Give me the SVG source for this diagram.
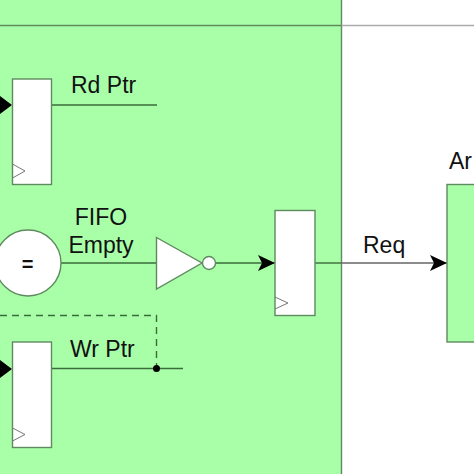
<svg xmlns="http://www.w3.org/2000/svg" width="474" height="474" viewBox="0 0 474 474">
<defs>
<marker id="arrow" markerUnits="userSpaceOnUse" markerWidth="18" markerHeight="16" refX="17" refY="8" orient="auto"><path d="M0 0L17 8L0 16L4 8Z" fill="#000"/></marker>
</defs>
<style>
.reg{fill:#fff;stroke:#5f8a5f;stroke-width:1.400}
.clk{fill:none;stroke:#777;stroke-width:1}
.wire{fill:none;stroke:#3a6b3a;stroke-width:1.400}
.lbl{font-family:"Liberation Sans",Arial,sans-serif;font-size:23px;fill:#111}
</style>
<rect id="region" x="0" y="0" width="341.500" height="474" fill="#a8ffa8"/>
<g id="connectors">
<path d="M341.500 0V474" fill="none" stroke="#5f8a5f" stroke-width="1.400"/>
<path d="M341.500 25.500H474" fill="none" stroke="#aaa" stroke-width="1.500"/>
<path d="M0 25.500H341.500" fill="none" stroke="#5f8a5f" stroke-width="1.400"/>
<path class="wire" d="M51 105H157"/>
<path class="wire" d="M61 263H157"/>
<path class="wire" d="M216 263H275" marker-end="url(#arrow)"/>
<path class="wire" d="M315 263H341"/>
<path d="M341 263H447" fill="none" stroke="#666" stroke-width="1.400" marker-end="url(#arrow)"/>
<path class="wire" d="M51 368.500H183"/>
<path class="wire" d="M0 315.500H156.500V368.500" stroke-dasharray="7 5"/>
<path d="M0 96L12 105L0 114Z" fill="#000"/>
<path d="M0 360L12 369L0 378Z" fill="#000"/>
<circle cx="156.500" cy="368.500" r="3.500" fill="#000"/>
</g>
<g id="rd-reg"><rect class="reg" x="12.500" y="79" width="39" height="105.500"/><path class="clk" d="M12.500 164L25 171L12.500 178"/></g>
<text class="lbl" x="71" y="93">Rd Ptr</text>
<g id="compare"><circle cx="28" cy="263" r="33" fill="#fff" stroke="#5f8a5f" stroke-width="1.400"/><text x="27.500" y="271" text-anchor="middle" font-family="Liberation Sans,Arial,sans-serif" font-size="20" font-weight="bold" fill="#111">=</text></g>
<text class="lbl" x="101" y="225" text-anchor="middle">FIFO</text>
<text class="lbl" x="101" y="253" text-anchor="middle">Empty</text>
<g id="inverter"><path d="M156.500 237.500L202 263L156.500 289Z" fill="#fff" stroke="#5f8a5f" stroke-width="1.400"/><circle cx="209" cy="263" r="6.500" fill="#fff" stroke="#5f8a5f" stroke-width="1.400"/></g>
<g id="req-reg"><rect class="reg" x="275" y="210.500" width="40" height="105"/><path class="clk" d="M275 297L288 303L275 309"/></g>
<text class="lbl" x="363" y="253">Req</text>
<g id="wr-reg"><rect class="reg" x="12.500" y="342" width="39" height="105.500"/><path class="clk" d="M12.500 428L25 434.500L12.500 441"/></g>
<text class="lbl" x="70" y="357">Wr Ptr</text>
<g id="arbiter"><rect x="447" y="184.500" width="40" height="157.500" fill="#a8ffa8" stroke="#5f8a5f" stroke-width="1.400"/></g>
<text class="lbl" x="449" y="169">Ar</text>
</svg>
